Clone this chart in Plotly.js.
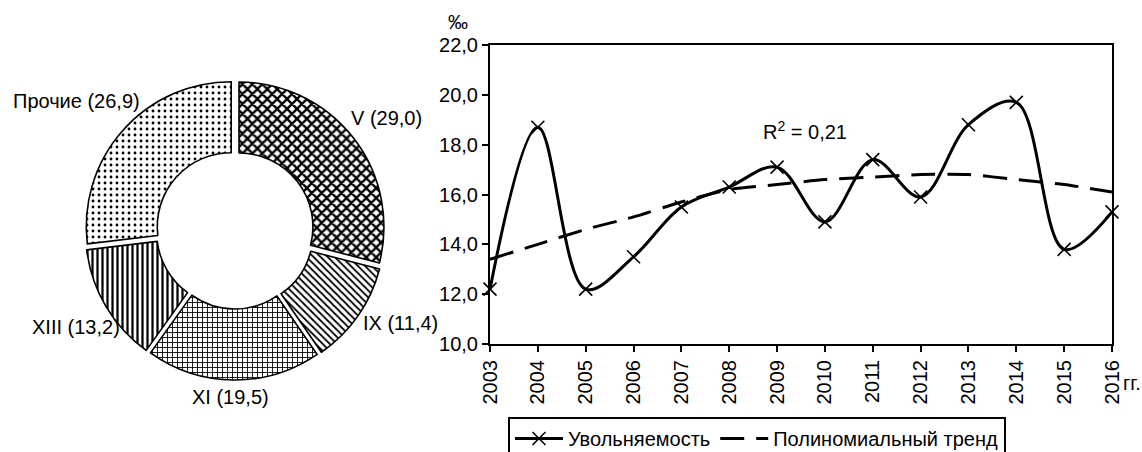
<!DOCTYPE html>
<html>
<head>
<meta charset="utf-8">
<script src="https://cdn.plot.ly/plotly-3.0.1.min.js"></script>
<style>html,body{margin:0;padding:0;background:#fff}#chart{width:1142px;height:452px}</style>
</head>
<body>
<div id="chart"></div>
<script>
// Donut data
const sliceLabels = ["V", "IX", "XI", "XIII", "Прочие"];
const sliceValues = [29.0, 11.4, 19.5, 13.2, 26.9];

// Line chart data
const years = [2003, 2004, 2005, 2006, 2007, 2008, 2009, 2010, 2011, 2012, 2013, 2014, 2015, 2016];
const dismissalRate = [12.2, 18.7, 12.2, 13.5, 15.5, 16.3, 17.1, 14.9, 17.4, 15.9, 18.8, 19.7, 13.8, 15.3];
const trendValues = [13.4, 14.0, 14.6, 15.1, 15.7, 16.2, 16.4, 16.6, 16.7, 16.8, 16.8, 16.6, 16.4, 16.1];
const yTicks = [10, 12, 14, 16, 18, 20, 22];

const seriesNames = ["Увольняемость", "Полиномиальный тренд"];
const r2Text = "R<sup>2</sup> = 0,21";

const fmt = v => v.toFixed(1).replace(".", ",");
const FONT = "Liberation Sans, Arial, sans-serif";
const FS = 20;
const W = 1142, H = 452;
const px = x => x / W;
const py = y => (H - y) / H;

// label placement (pixel centres) for donut labels
const labelPos = [[386, 118], [400, 323], [230, 397], [76, 327], [76, 101]];

const pie = {
  type: "pie",
  labels: sliceLabels,
  values: sliceValues,
  textinfo: "none",
  hole: 0.51,
  sort: false,
  direction: "clockwise",
  rotation: 0,
  pull: 0.035,
  domain: {x: [px(85), px(385)], y: [py(380), py(80)]},
  marker: {
    colors: ["#ffffff", "#ffffff", "#ffffff", "#ffffff", "#ffffff"],
    line: {color: "#000000", width: 1.6},
    pattern: {
      shape: ["x", "\\", "+", "|", "."],
      fgcolor: "#000000",
      bgcolor: "#ffffff",
      size: [7, 5, 5, 5, 6],
      solidity: [0.55, 0.35, 0.32, 0.45, 0.18],
      fillmode: "replace"
    }
  },
  showlegend: false,
  hoverinfo: "label+value"
};

const line = {
  type: "scatter",
  mode: "lines+markers",
  name: seriesNames[0],
  x: years,
  y: dismissalRate,
  line: {color: "#000", width: 3, shape: "spline", smoothing: 1},
  marker: {symbol: "x-thin-open", size: 13, color: "#000", line: {color: "#000", width: 1.6}},
  cliponaxis: false
};

const trend = {
  type: "scatter",
  mode: "lines",
  name: seriesNames[1],
  x: years,
  y: trendValues,
  line: {color: "#000", width: 3, dash: "24px,12px", shape: "spline", smoothing: 0.6}
};

const axisCommon = {
  ticks: "outside",
  ticklen: 6,
  tickwidth: 2,
  tickcolor: "#000",
  showline: true,
  linecolor: "#000",
  linewidth: 2,
  mirror: true,
  showgrid: false,
  zeroline: false,
  automargin: false,
  tickfont: {family: FONT, size: FS, color: "#000"},
  fixedrange: true
};

const annotations = sliceLabels.map((l, i) => ({
  text: l + " (" + fmt(sliceValues[i]) + ")",
  xref: "paper", yref: "paper",
  x: px(labelPos[i][0]), y: py(labelPos[i][1]),
  xanchor: "center", yanchor: "middle",
  showarrow: false,
  font: {family: FONT, size: FS, color: "#000"}
}));
annotations.push(
  {text: "‰", xref: "paper", yref: "paper", x: px(458), y: py(22), xanchor: "center", yanchor: "middle", showarrow: false, font: {family: FONT, size: FS}},
  {text: "гг.", xref: "paper", yref: "paper", x: px(1132), y: py(383), xanchor: "center", yanchor: "middle", showarrow: false, font: {family: FONT, size: FS}},
  {text: r2Text, xref: "paper", yref: "paper", x: px(805), y: py(131), xanchor: "center", yanchor: "middle", showarrow: false, font: {family: FONT, size: FS}}
);

const layout = {
  width: W,
  height: H,
  margin: {l: 0, r: 0, t: 0, b: 0, autoexpand: false},
  paper_bgcolor: "#fff",
  plot_bgcolor: "#fff",
  separators: ", ",
  font: {family: FONT, size: FS, color: "#000"},
  xaxis: Object.assign({}, axisCommon, {
    domain: [px(490), px(1112)],
    range: [2003, 2016],
    tickvals: years,
    ticktext: years.map(String),
    tickangle: -90
  }),
  yaxis: Object.assign({}, axisCommon, {
    domain: [py(344), py(45)],
    range: [10, 22],
    tickvals: yTicks,
    ticktext: yTicks.map(fmt)
  }),
  legend: {
    orientation: "h",
    x: px(508),
    xanchor: "left",
    y: py(417),
    yanchor: "top",
    bordercolor: "#000",
    borderwidth: 2,
    bgcolor: "#fff",
    font: {family: FONT, size: FS, color: "#000"},
    itemwidth: 48,
    tracegroupgap: 0
  },
  annotations: annotations,
  showlegend: true
};

Plotly.newPlot("chart", [pie, line, trend], layout, {displayModeBar: false, staticPlot: true});
</script>
</body>
</html>
